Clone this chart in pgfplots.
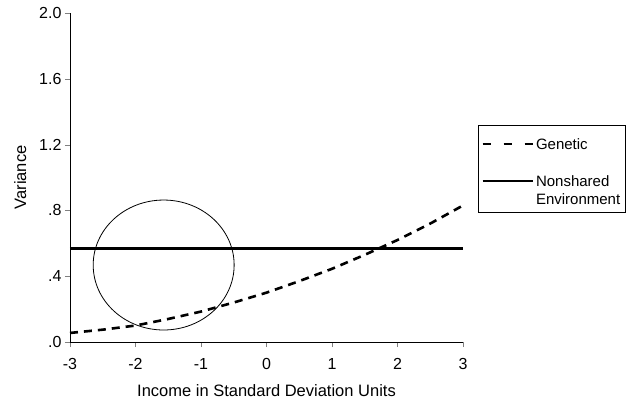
\documentclass[border=0pt]{standalone}
\usepackage{pgfplots}
\pgfplotsset{compat=1.18}
\usepackage{fontspec}
\setmainfont{Liberation Sans}
\pgfplotsset{
  genleg/.style={legend image code/.code={\draw[##1, dash pattern=on 8pt off 13pt] (0pt,5pt) -- (50pt,5pt);}},
}
\begin{document}
\begin{tikzpicture}
\begin{axis}[
  scale only axis, width=393pt, height=329pt,
  xmin=-3, xmax=3, ymin=0, ymax=2.0,
  axis x line*=bottom, axis y line*=left,
  tick align=outside, major tick length=5pt,
  xtick={-3,-2,-1,0,1,2,3},
  ytick={0,0.4,0.8,1.2,1.6,2.0},
  yticklabels={.0,.4,.8,1.2,1.6,2.0},
  xticklabel style={font=\fontsize{16}{18}\selectfont, yshift=-8pt},
  yticklabel style={font=\fontsize{16}{18}\selectfont},
  /pgf/number format/assume math mode=true,
  xlabel={Income in Standard Deviation Units},
  ylabel={Variance},
  xlabel style={font=\fontsize{16.5}{19}\selectfont, yshift=-8pt},
  ylabel style={font=\fontsize{16.5}{19}\selectfont, yshift=6pt},
  every axis line/.style={line width=0.8pt},
  clip=false,
  legend cell align=left,
  legend style={at={(1.038,0.66)}, anchor=north west, draw=black, line width=0.6pt,
    font=\fontsize{15}{19}\selectfont, cells={anchor=base west}, nodes={inner ysep=1pt, text depth=},
    row sep=2pt, inner xsep=3pt, inner ysep=6pt},
  legend image code/.code={\draw[#1] (0pt,5pt) -- (50pt,5pt);},
]
\addplot[black, line width=2.6pt, dash pattern=on 8pt off 6pt, genleg] coordinates {
 (-3,0.055) (-2.5,0.075) (-2,0.10) (-1.5,0.14) (-1,0.185) (-0.5,0.24) (0,0.30)
 (0.5,0.37) (1,0.445) (1.5,0.53) (2,0.62) (2.5,0.72) (3,0.83)};
\addlegendentry{\rule[-22pt]{0pt}{39pt}Genetic}
\addplot[black, line width=2.8pt] coordinates {(-3,0.57) (3,0.57)};
\addlegendentry{\rule[-4pt]{0pt}{4pt}Nonshared}
\addlegendimage{empty legend}
\addlegendentry{Environment}
\draw[black, line width=0.8pt] (axis cs:-1.57,0.468) ellipse [x radius=1.076, y radius=0.395];
\coordinate (o) at (rel axis cs:0,0);
\end{axis}
\pgfresetboundingbox
\path (o) ++(-70pt,-60pt) rectangle ++(634pt,402pt);
\end{tikzpicture}
\end{document}
